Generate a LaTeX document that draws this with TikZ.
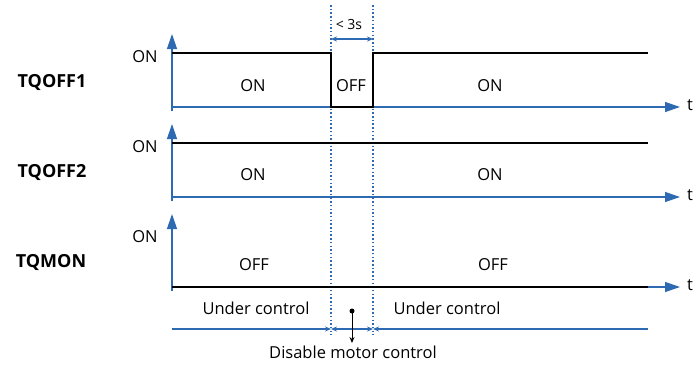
\documentclass[tikz,border=0pt]{standalone}
\usepackage{fontspec}
\setmainfont{Open Sans}
\usetikzlibrary{arrows.meta}
\definecolor{axblue}{RGB}{46,106,178}
\begin{document}
\begin{tikzpicture}[x=1pt,y=-1pt,
  axis/.style={axblue, line width=1.3pt, -{Triangle[length=15pt,width=10pt]}},
  sig/.style={black, line width=1.8pt},
  vline/.style={axblue, line width=1.2pt, dash pattern=on 1.5pt off 2.2pt},
  lbl/.style={font=\fontsize{16.5}{19}\selectfont, inner sep=0pt},
  sname/.style={font=\fontsize{18}{21}\selectfont\bfseries, inner sep=0pt},
  slbl/.style={font=\fontsize{14}{16}\selectfont, inner sep=0pt},
  sarr/.style={axblue, line width=1.25pt, >={Stealth[length=6pt,width=5pt]}}
]
\useasboundingbox[fill=white] (0,0) rectangle (694,367);
% dotted verticals
\coordinate (d1t) at (331,5); \coordinate (d1b) at (331,335);
\coordinate (d2t) at (373,5); \coordinate (d2b) at (373,335);
\draw[vline] (d1t) -- (d1b);
\draw[vline] (d2t) -- (d2b);
% graph 1
\coordinate (a1b) at (172,111); \coordinate (a1t) at (172,34);
\coordinate (t1s) at (172,107); \coordinate (t1e) at (680,107);
\draw[axis] (a1b) -- (a1t);
\draw[axis] (t1s) -- (t1e);
\coordinate (s1a) at (172,53); \coordinate (s1b) at (331,53);
\coordinate (s1c) at (331,107); \coordinate (s1d) at (373,107);
\coordinate (s1e) at (373,53); \coordinate (s1f) at (648,53);
\draw[sig] (s1a) -- (s1b) -- (s1c) -- (s1d) -- (s1e) -- (s1f);
% graph 2
\coordinate (a2b) at (172,201); \coordinate (a2t) at (172,124);
\coordinate (t2s) at (172,197); \coordinate (t2e) at (680,197);
\draw[axis] (a2b) -- (a2t);
\draw[axis] (t2s) -- (t2e);
\coordinate (s2a) at (172,143); \coordinate (s2b) at (648,143);
\draw[sig] (s2a) -- (s2b);
% graph 3
\coordinate (a3b) at (172,291); \coordinate (a3t) at (172,214);
\coordinate (t3s) at (172,287); \coordinate (t3e) at (680,287);
\draw[axis] (a3b) -- (a3t);
\draw[axis] (t3s) -- (t3e);
\coordinate (s3a) at (172,287); \coordinate (s3b) at (648,287);
\draw[sig] (s3a) -- (s3b);
% t labels
\node[lbl] (tl1) at (690,105) {t};
\node[lbl] (tl2) at (690,195) {t};
\node[lbl] (tl3) at (690,285) {t};
% signal names
\node[sname] (n1) at (52,83) {TQOFF1};
\node[sname] (n2) at (52,173) {TQOFF2};
\node[sname] (n3) at (51,262) {TQMON};
% ON level labels
\node[lbl] (on1) at (145,57) {ON};
\node[lbl] (on2) at (145,147) {ON};
\node[lbl] (on3) at (145,237) {ON};
% state labels
\node[lbl] (g1a) at (253,86) {ON};
\node[lbl] (g1b) at (351,86) {OFF};
\node[lbl] (g1c) at (490,86) {ON};
\node[lbl] (g2a) at (253,175) {ON};
\node[lbl] (g2b) at (490,175) {ON};
\node[lbl] (g3a) at (254,265) {OFF};
\node[lbl] (g3b) at (493,265) {OFF};
% < 3s
\node[slbl] (lt) at (349,24) {< 3s};
\coordinate (w1) at (331,39); \coordinate (w2) at (373,39);
\draw[sarr, <->] (w1) -- (w2);
% bottom control bar
\coordinate (b0) at (172,329); \coordinate (b1) at (331,329);
\coordinate (b2) at (373,329); \coordinate (b3) at (648,329);
\draw[sarr, ->] (b0) -- (b1);
\draw[sarr, <->] (b1) -- (b2);
\draw[sarr, ->] (b3) -- (b2);
\node[lbl] (u1) at (256,308) {Under control};
\node[lbl] (u2) at (447,308) {Under control};
\node[circle, fill=black, inner sep=0pt, minimum size=5pt] (dot) at (352,311) {};
\coordinate (dend) at (352,343);
\node[lbl, anchor=north] (dis) at (353,346) {Disable motor control};
\draw[line width=1pt, -{Stealth[length=6pt,width=5pt]}] (dot.center) -- (dend);
\end{tikzpicture}
\end{document}
